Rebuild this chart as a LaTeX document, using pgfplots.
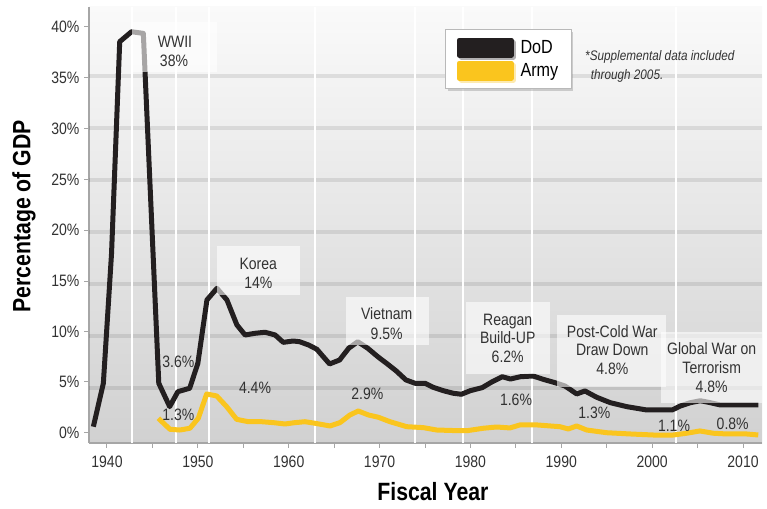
\documentclass[border=0pt]{standalone}
\usepackage{pgfplots}
\pgfplotsset{compat=1.18}
\usepackage{fontspec}
\setmainfont{Liberation Sans}[FakeStretch=0.85]
\usetikzlibrary{shadows}
\definecolor{dod}{RGB}{35,31,32}
\definecolor{army}{RGB}{250,197,30}
\definecolor{txt}{RGB}{50,50,50}
\begin{document}
\begin{tikzpicture}
\useasboundingbox (0,0) rectangle (767pt,508pt);
\begin{axis}[
  at={(89pt,65pt)}, anchor=south west, scale only axis,
  width=673pt, height=436pt,
  xmin=1938.02, xmax=2012.09, ymin=-0.33, ymax=41.64,
  axis x line*=bottom, axis y line*=left,
  axis line style={gray!70, line width=1.5pt},
  xtick={1940,1950,...,2010},
  xticklabels={1940,1950,1960,1970,1980,1990,2000,2010},
  minor xtick={1945,1955,...,2005},
  ytick={0.66,5.57,10.38,15.26,20.17,24.99,29.96,34.83,39.74},
  yticklabels={0\%,5\%,10\%,15\%,20\%,25\%,30\%,35\%,40\%},
  tick align=outside, major tick length=5pt, minor tick length=5pt,
  tick style={gray!70, line width=1pt},
  ticklabel style={font=\fontsize{16.5}{18}\selectfont, text=txt},
  xticklabel style={yshift=-4pt},
  yticklabel style={xshift=-1pt},
  extra y ticks={5,10,...,35}, extra y tick labels={},
  extra y tick style={grid=major, major grid style={line width=4pt, black, opacity=0.09}, major tick length=0pt, yticklabel={}},
  axis background/.style={shade, top color=gray!4, bottom color=gray!36},
  xlabel={Fiscal Year}, ylabel={Percentage of GDP},
  label style={font=\bfseries\fontsize{25}{26}\selectfont},
  xlabel style={at={(axis description cs:0.511,-0.112)}, anchor=center},
  ylabel style={at={(axis description cs:-0.0966,0.52)}, anchor=center},
  legend style={at={(axis description cs:0.529,0.949)}, anchor=north west,
    draw=gray!55, line width=1pt, fill=white,
    drop shadow={shadow xshift=2pt, shadow yshift=-2pt, opacity=0.35},
    font=\fontsize{19}{20}\selectfont, inner xsep=11pt, inner ysep=8pt, row sep=3pt,
    /tikz/every odd column/.append style={column sep=5pt}},
  legend cell align=left,
  legend image code/.code={\fill[#1] (0pt,-7.5pt) rectangle (52pt,7.5pt);},
]
\pgfplotsinvokeforeach{1942.72,1947.59,1951.26,1962.89,1973.90,1979.15,1986.78,2002.63}{
  \draw[white, line width=2pt] (axis cs:#1,-0.33) -- (axis cs:#1,41.64);
}
\addplot[dod, line width=5pt, line join=round] coordinates {
(1938.5,1.24)(1939.6,5.42)(1940.5,17.9)(1941.4,38.30)(1942.7,39.26)(1944.0,39.10)(1945.7,5.42)(1946.9,3.17)(1947.8,4.61)(1949.1,4.94)(1950.0,7.34)(1951.0,13.44)(1952.1,14.56)(1953.2,13.44)(1954.3,11.03)(1955.2,10.07)(1956.3,10.23)(1957.4,10.33)(1958.5,10.07)(1959.4,9.36)(1960.5,9.49)(1961.2,9.42)(1962.2,9.10)(1963.1,8.69)(1963.8,7.98)(1964.5,7.28)(1965.6,7.66)(1966.6,8.79)(1967.6,9.42)(1968.7,8.79)(1969.8,7.98)(1970.9,7.25)(1971.8,6.63)(1972.9,5.74)(1973.9,5.42)(1975.0,5.42)(1975.9,5.03)(1977.0,4.71)(1978.1,4.46)(1979.0,4.36)(1980.0,4.71)(1981.3,5.00)(1982.4,5.57)(1983.5,6.05)(1984.4,5.83)(1985.5,6.05)(1986.9,6.12)(1988.0,5.80)(1989.3,5.48)(1990.4,5.16)(1991.7,4.39)(1992.6,4.68)(1993.9,4.07)(1995.4,3.55)(1997.2,3.17)(1999.4,2.85)(2000.9,2.85)(2002.2,2.85)(2003.1,3.23)(2004.2,3.55)(2005.3,3.74)(2006.4,3.55)(2007.5,3.33)(2009.0,3.33)(2010.4,3.33)(2011.7,3.33)
};
\addlegendentry{DoD}
\addplot[army, line width=5pt, line join=round] coordinates {
(1945.65,2.05)(1946.93,0.99)(1948.03,0.92)(1949.13,1.09)(1950.05,2.05)(1950.97,4.39)(1952.07,4.20)(1953.17,3.17)(1954.27,1.95)(1955.55,1.72)(1957.03,1.72)(1958.30,1.63)(1959.59,1.50)(1960.69,1.63)(1961.79,1.72)(1962.89,1.57)(1964.54,1.31)(1965.64,1.63)(1966.74,2.37)(1967.66,2.75)(1968.76,2.37)(1969.86,2.15)(1971.15,1.72)(1972.99,1.24)(1974.81,1.15)(1976.29,0.92)(1978.49,0.86)(1979.59,0.85)(1981.42,1.09)(1982.89,1.21)(1984.35,1.12)(1985.45,1.41)(1987.29,1.41)(1989.85,1.24)(1990.77,1.02)(1991.69,1.31)(1992.79,0.92)(1994.99,0.66)(1997.56,0.54)(2000.12,0.44)(2002.33,0.44)(2003.80,0.61)(2005.25,0.83)(2006.73,0.61)(2008.20,0.54)(2010.40,0.54)(2011.68,0.44)
};
\addlegendentry{Army}
\end{axis}
\begin{scope}[x=1pt, y=-1pt, shift={(0pt,508pt)}]
  \fill[white, opacity=0.6] (131.5,22) rectangle (216.7,72);
  \fill[white, opacity=0.6] (216.7,246) rectangle (300,295);
  \fill[white, opacity=0.6] (346,297) rectangle (429.3,345);
  \fill[white, opacity=0.6] (466,301.7) rectangle (550,374);
  \fill[white, opacity=0.6] (556.7,315) rectangle (666,387.3);
  \fill[white, opacity=0.6] (661,331.7) rectangle (761.7,403.3);
  \begin{scope}[every node/.style={anchor=base, inner sep=0pt, text=txt, font=\fontsize{16.5}{18}\selectfont}]
    \node at (175,47.7) {WWII};
    \node at (174,67) {38\%};
    \node at (258.3,270) {Korea};
    \node at (258.3,288.3) {14\%};
    \node at (386.7,320) {Vietnam};
    \node at (386.7,339.3) {9.5\%};
    \node at (507.7,326) {Reagan};
    \node at (507.7,343.3) {Build-UP};
    \node at (507.7,362.7) {6.2\%};
    \node at (612.3,337.7) {Post-Cold War};
    \node at (612.3,356) {Draw Down};
    \node at (612.3,375) {4.8\%};
    \node at (711.7,354.3) {Global War on};
    \node at (711.7,373.3) {Terrorism};
    \node at (711.7,392.7) {4.8\%};
    \node at (178.3,367.7) {3.6\%};
    \node at (178.3,421) {1.3\%};
    \node at (255,393.3) {4.4\%};
    \node at (367.3,399.3) {2.9\%};
    \node at (516,406) {1.6\%};
    \node at (594.3,418.7) {1.3\%};
    \node at (674,431.7) {1.1\%};
    \node at (732.7,430) {0.8\%};
  \end{scope}
  \node[anchor=base west, inner sep=0pt, text=txt, font=\itshape\fontsize{13.8}{15}\selectfont] at (585,61) {*Supplemental data included};
  \node[anchor=base west, inner sep=0pt, text=txt, font=\itshape\fontsize{13.8}{15}\selectfont] at (590.7,80) {through 2005.};
\end{scope}
\end{tikzpicture}
\end{document}
